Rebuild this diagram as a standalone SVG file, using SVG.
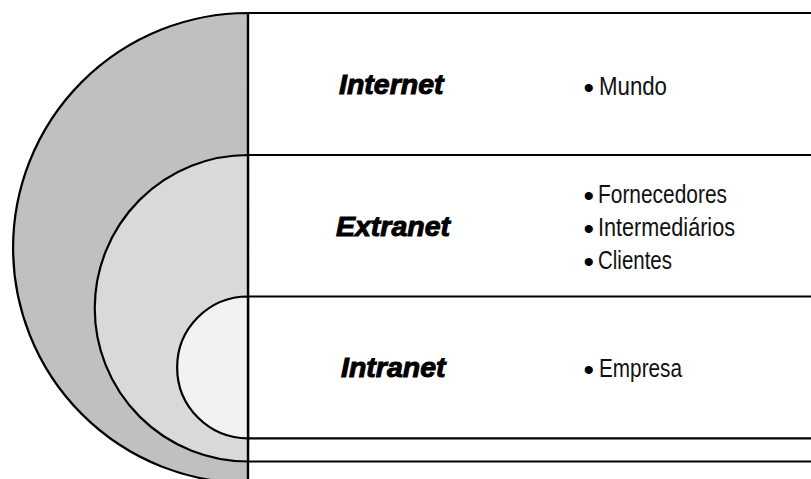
<svg xmlns="http://www.w3.org/2000/svg" width="811" height="479" viewBox="0 0 811 479">
  <style>
    .ring { stroke: #000; stroke-width: 2.2; }
    .rule { stroke: #000; stroke-width: 2.2; fill: none; }
    .title { font-family: "Liberation Sans", Arial, sans-serif; font-weight: bold; font-style: italic; font-size: 28.5px; fill: #000; stroke: #000; stroke-width: 1; }
    .item { font-family: "Liberation Sans", Arial, sans-serif; font-size: 25px; fill: #111; }
    .dot { font-family: "Liberation Sans", Arial, sans-serif; font-size: 30px; fill: #000; }
  </style>
  <rect width="811" height="479" fill="#fff"/>

  <!-- nested half discs -->
  <g id="internet">
    <path class="ring" d="M248,13 A235,235 0 0 0 248,483 Z" fill="#c0c0c0"/>
    <text class="title" x="339" y="94">Internet</text>
    <text class="dot" x="583.5" y="97.5">•</text>
    <text class="item" x="599" y="94.5" textLength="68" lengthAdjust="spacingAndGlyphs">Mundo</text>
  </g>

  <g id="extranet">
    <path class="ring" d="M248,155 A153.25,153.25 0 0 0 248,461.5 Z" fill="#d9d9d9"/>
    <text class="title" x="336" y="235.5">Extranet</text>
    <text class="dot" x="583.5" y="205.5">•</text>
    <text class="item" x="598" y="202.5" textLength="129" lengthAdjust="spacingAndGlyphs">Fornecedores</text>
    <text class="dot" x="583.5" y="238.5">•</text>
    <text class="item" x="598" y="235.5" textLength="137" lengthAdjust="spacingAndGlyphs">Intermediários</text>
    <text class="dot" x="583.5" y="271.5">•</text>
    <text class="item" x="598" y="268.5" textLength="74" lengthAdjust="spacingAndGlyphs">Clientes</text>
  </g>

  <g id="intranet">
    <path class="ring" d="M248,296.5 A70.9,70.9 0 0 0 248,438.3 Z" fill="#f2f2f2"/>
    <text class="title" x="341" y="377">Intranet</text>
    <text class="dot" x="583.5" y="380">•</text>
    <text class="item" x="599" y="377" textLength="83" lengthAdjust="spacingAndGlyphs">Empresa</text>
  </g>

  <!-- divider lines of the table -->
  <g id="connectors">
    <line class="rule" x1="248" y1="12" x2="248" y2="479"/>
    <line class="rule" x1="247" y1="13" x2="811" y2="13"/>
    <line class="rule" x1="247" y1="155" x2="811" y2="155"/>
    <line class="rule" x1="247" y1="296.5" x2="811" y2="296.5"/>
    <line class="rule" x1="247" y1="438.3" x2="811" y2="438.3"/>
    <line class="rule" x1="247" y1="461.5" x2="811" y2="461.5"/>
  </g>
</svg>
